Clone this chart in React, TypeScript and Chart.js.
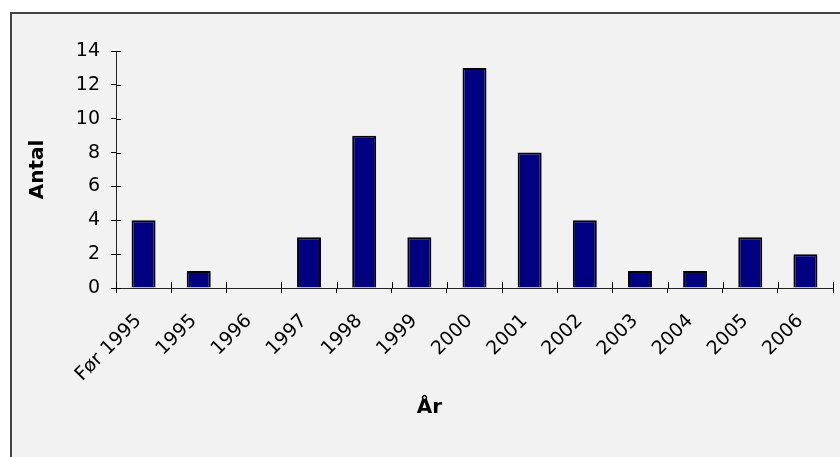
import React, { useEffect, useRef } from "react";
import { Chart, registerables } from "chart.js";

Chart.register(...registerables);

const categories: string[] = [
  "Før 1995", "1995", "1996", "1997", "1998", "1999", "2000",
  "2001", "2002", "2003", "2004", "2005", "2006",
];
const counts: number[] = [4, 1, 0, 3, 9, 3, 13, 8, 4, 1, 1, 3, 2];
const yMin = 0;
const yMax = 14;
const yStep = 2;
const yTitle = "Antal";
const xTitle = "År";

const innerTicks = {
  id: "innerTicks",
  afterDatasetsDraw(chart: any) {
    const { ctx, chartArea, scales } = chart;
    const xs = scales.x;
    const ys = scales.y;
    ctx.save();
    ctx.strokeStyle = "#000";
    ctx.lineWidth = 1;
    ctx.beginPath();
    const n = xs.getLabels().length;
    for (let i = 0; i <= n; i++) {
      const px = Math.round(xs.getPixelForValue(i - 0.5)) + 0.5;
      ctx.moveTo(px, chartArea.bottom);
      ctx.lineTo(px, chartArea.bottom - 6);
    }
    for (const t of ys.ticks) {
      const py = Math.round(ys.getPixelForValue(t.value)) + 0.5;
      ctx.moveTo(chartArea.left, py);
      ctx.lineTo(chartArea.left + 5, py);
    }
    ctx.stroke();
    ctx.restore();
  },
};

export default function App() {
  const ref = useRef<HTMLCanvasElement | null>(null);

  useEffect(() => {
    if (!ref.current) return;
    Chart.defaults.font.family = "'DejaVu Sans', Verdana, sans-serif";
    Chart.defaults.color = "#000";
    const chart = new Chart(ref.current, {
      type: "bar",
      data: {
        labels: categories,
        datasets: [
          {
            data: counts,
            backgroundColor: "#000080",
            borderColor: "#000000",
            borderWidth: 2,
            barPercentage: 0.435,
            categoryPercentage: 1,
          },
        ],
      },
      options: {
        responsive: false,
        animation: false,
        devicePixelRatio: 1,
        layout: { padding: { left: 26, right: 7, top: 51, bottom: 37 } },
        plugins: {
          legend: { display: false },
          tooltip: { enabled: false },
          title: {
            display: true,
            text: xTitle,
            position: "bottom",
            color: "#000",
            font: { size: 20, weight: "bold" },
            padding: 0,
          },
        },
        scales: {
          x: {
            offset: true,
            grid: {
              display: true,
              offset: true,
              drawOnChartArea: false,
              drawTicks: true,
              tickLength: 5,
              color: "#000",
            },
            border: { display: true, color: "#222", width: 1 },
            ticks: {
              autoSkip: false,
              minRotation: 45,
              maxRotation: 45,
              padding: 17,
              labelOffset: -5,
              color: "#000",
              font: { size: 19 },
            },
            afterFit: (s: any) => {
              s.height = 108;
            },
          },
          y: {
            min: yMin,
            max: yMax,
            grid: {
              display: true,
              drawOnChartArea: false,
              drawTicks: true,
              tickLength: 5,
              color: "#000",
            },
            border: { display: true, color: "#222", width: 1 },
            ticks: {
              stepSize: yStep,
              padding: 11,
              color: "#000",
              font: { size: 19 },
            },
            title: {
              display: true,
              text: yTitle,
              color: "#000",
              font: { size: 20, weight: "bold" },
              padding: { top: 0, bottom: 0 },
            },
            afterFit: (s: any) => {
              s.width = 90;
            },
          },
        },
      },
      plugins: [innerTicks],
    });
    return () => chart.destroy();
  }, []);

  return (
    <div
      style={{
        position: "fixed",
        left: 0,
        top: 0,
        width: 840,
        height: 457,
        background: "#ffffff",
        overflow: "hidden",
      }}
    >
      <div
        style={{
          position: "absolute",
          left: 10,
          top: 12,
          width: 840,
          height: 457,
          background: "#f2f2f2",
          borderLeft: "2px solid #444",
          borderTop: "2px solid #444",
        }}
      />
      <canvas
        ref={ref}
        width={840}
        height={457}
        style={{ position: "absolute", left: 0, top: 0, width: 840, height: 457 }}
      />
    </div>
  );
}
